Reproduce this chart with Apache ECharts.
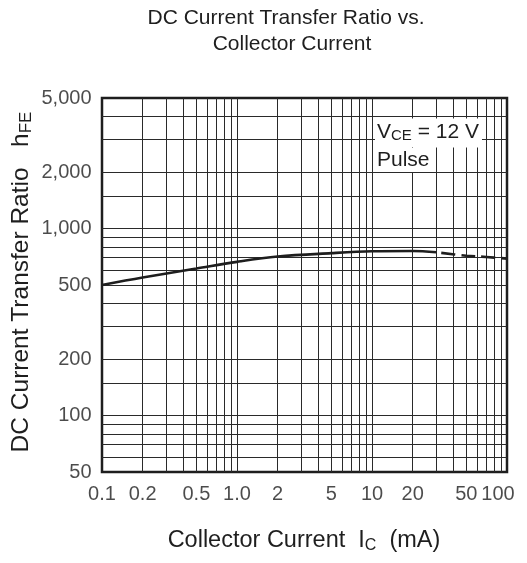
<!DOCTYPE html>
<html><head><meta charset="utf-8">
<script src="https://cdn.jsdelivr.net/npm/echarts@6/dist/echarts.min.js"></script>
<style>html,body{margin:0;padding:0;background:#fff}#c{width:527px;height:563px}</style>
</head><body><div id="c"></div>
<script>
// ---- data ----
const curveX = [0.1, 0.2, 0.5, 1, 2, 5, 10, 20, 30];
const curveY = [500, 548, 612, 665, 710, 740, 757, 760, 748];
const dashX = [30, 50, 70, 100];
const dashY = [748, 717, 706, 692];
const xGrid = [0.2, 0.3, 0.4, 0.5, 0.6, 0.7, 0.8, 0.9, 1, 2, 3, 4, 5, 6, 7, 8, 9, 10, 20, 30, 40, 50, 60, 70, 80, 90];
const yGrid = [60, 70, 80, 90, 100, 150, 200, 300, 400, 500, 600, 700, 800, 900, 1000, 1500, 2000, 3000, 4000];
const xTickVals = [0.1, 0.2, 0.5, 1, 2, 5, 10, 20, 50, 100];
const xTickText = ['0.1', '0.2', '0.5', '1.0', '2', '5', '10', '20', '50', '100'];
const yTickVals = [50, 100, 200, 500, 1000, 2000, 5000];
const yTickText = ['50', '100', '200', '500', '1,000', '2,000', '5,000'];
const titleLines = ['DC Current Transfer Ratio vs.', 'Collector Current'];

// ---- chart ----
const FONT = "'Liberation Sans', Arial, sans-serif";
const INK = '#1e1e1e';
const chart = echarts.init(document.getElementById('c'), null, {renderer: 'canvas'});
const zip = (xs, ys) => xs.map((x, i) => [x, ys[i]]);
const centered = {align: 'center', verticalAlign: 'middle', textAlign: 'center', textVerticalAlign: 'middle'};
const leftMid = {align: 'left', verticalAlign: 'middle', textAlign: 'left', textVerticalAlign: 'middle'};

const option = {
  animation: false,
  backgroundColor: '#fff',
  textStyle: {fontFamily: FONT},
  grid: {left: 102, top: 98, width: 405, height: 374, show: true, borderColor: INK, borderWidth: 2.5, backgroundColor: 'transparent'},
  xAxis: {type: 'log', logBase: 10, min: 0.1, max: 100,
    axisLine: {show: false}, axisTick: {show: false}, axisLabel: {show: false}, splitLine: {show: false}},
  yAxis: {type: 'log', logBase: 10, min: 50, max: 5000,
    axisLine: {show: false}, axisTick: {show: false}, axisLabel: {show: false}, splitLine: {show: false}},
  series: [
    {
      type: 'line', data: [], z: 1, silent: true,
      markLine: {
        silent: true, symbol: ['none', 'none'], animation: false,
        label: {show: false},
        lineStyle: {color: '#2a2a2a', width: 1, type: 'solid'},
        data: [...xGrid.map(v => ({xAxis: v})), ...yGrid.map(v => ({yAxis: v}))]
      }
    },
    {
      type: 'line', data: zip(curveX, curveY), smooth: 0.35, symbol: 'none', z: 5,
      lineStyle: {color: INK, width: 2.6}
    },
    {
      type: 'line', data: zip(dashX, dashY), smooth: 0.35, symbol: 'none', z: 5,
      lineStyle: {color: INK, width: 2.6, type: [14, 6], dashOffset: -5}
    },
    {
      type: 'scatter', silent: true, clip: false, symbolSize: 1, itemStyle: {color: 'rgba(0,0,0,0)'},
      data: xTickVals.map((v, i) => ({value: [v, yTickVals[0]],
        label: {formatter: xTickText[i], offset: i === xTickVals.length - 1 ? [-9, 0] : [0, 0]}})),
      label: {show: true, position: 'bottom', distance: 12, fontSize: 20, color: INK, fontFamily: FONT}
    },
    {
      type: 'scatter', silent: true, clip: false, symbolSize: 1, itemStyle: {color: 'rgba(0,0,0,0)'},
      data: yTickVals.map((v, i) => ({value: [xTickVals[0], v], label: {formatter: yTickText[i]}})),
      label: {show: true, position: 'left', distance: 10, fontSize: 20, color: INK, fontFamily: FONT}
    }
  ],
  graphic: [
    {type: 'text', x: 286, y: 18, z: 100, style: Object.assign({text: titleLines[0], fill: INK, font: '21px ' + FONT}, centered)},
    {type: 'text', x: 292, y: 44, z: 100, style: Object.assign({text: titleLines[1], fill: INK, font: '21px ' + FONT}, centered)},
    {type: 'text', x: 304, y: 541, z: 100, style: Object.assign({
      text: '{m|Collector Current  I}{s|C}{m|  (mA)}',
      rich: {m: {fontSize: 23.5, fontFamily: FONT, fill: INK, color: INK, lineHeight: 26}, s: {fontSize: 16, fontFamily: FONT, fill: INK, color: INK, lineHeight: 16, verticalAlign: 'bottom'}}}, centered)},
    {type: 'text', x: 21, y: 282, rotation: Math.PI / 2, z: 100, style: Object.assign({
      text: '{m|DC Current Transfer Ratio   h}{s|FE}',
      rich: {m: {fontSize: 24.5, fontFamily: FONT, fill: INK, color: INK, lineHeight: 28}, s: {fontSize: 17, fontFamily: FONT, fill: INK, color: INK, lineHeight: 17, verticalAlign: 'bottom'}}}, centered)},
    {type: 'text', x: 375, y: 133, z: 100, style: Object.assign({
      text: '{m|V}{s|CE}{m| = 12 V}',
      backgroundColor: '#fff', padding: [2, 3, 4, 2],
      rich: {m: {fontSize: 21, fontFamily: FONT, fill: INK, color: INK, lineHeight: 23}, s: {fontSize: 15, fontFamily: FONT, fill: INK, color: INK, lineHeight: 15, verticalAlign: 'bottom'}}}, leftMid)},
    {type: 'text', x: 375, y: 160, z: 100, style: Object.assign({
      text: 'Pulse', fill: INK, font: '21px ' + FONT,
      backgroundColor: '#fff', padding: [1, 3, 2, 2]}, leftMid)}
  ]
};
chart.setOption(option);
</script>
</body></html>
